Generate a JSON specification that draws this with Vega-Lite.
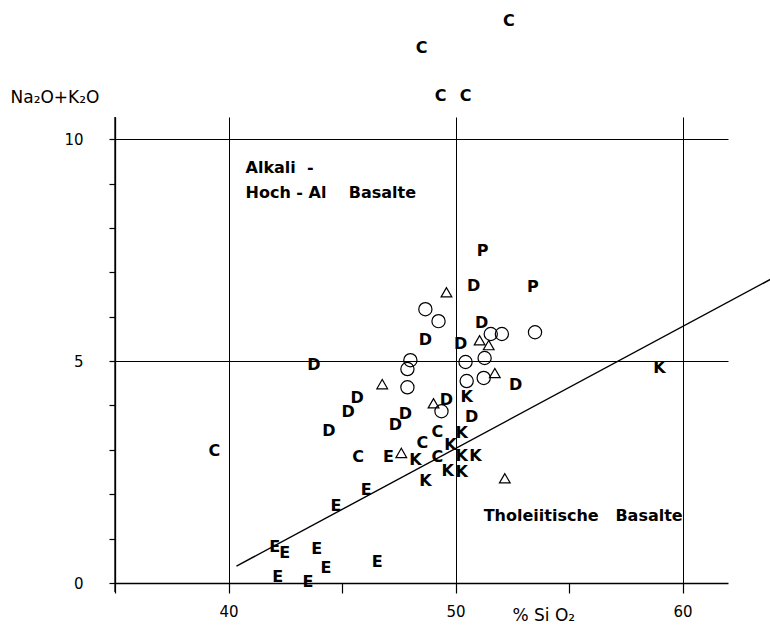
{
  "$schema": "https://vega.github.io/schema/vega-lite/v6.json",
  "width": 613,
  "height": 466,
  "autosize": "none",
  "padding": {"left": 115, "top": 117, "right": 42, "bottom": 44},
  "background": "white",
  "config": {
    "view": {"stroke": null},
    "font": "DejaVu Sans",
    "axis": {
      "domain": true,
      "domainColor": "black",
      "domainWidth": 1.3,
      "tickColor": "black",
      "tickWidth": 1.2,
      "gridColor": "black",
      "gridWidth": 1,
      "labelColor": "black",
      "titleColor": "black",
      "labelFont": "DejaVu Sans",
      "titleFont": "DejaVu Sans",
      "labelFontSize": 15,
      "titleFontSize": 17,
      "titleFontWeight": "normal"
    }
  },
  "datasets": {
    "points": [
      {"x": 48.5, "y": 12.05, "sym": "C"},
      {"x": 52.35, "y": 12.66, "sym": "C"},
      {"x": 49.34, "y": 10.97, "sym": "C"},
      {"x": 50.44, "y": 10.97, "sym": "C"},
      {"x": 39.38, "y": 2.97, "sym": "C"},
      {"x": 49.2, "y": 3.4, "sym": "C"},
      {"x": 48.54, "y": 3.15, "sym": "C"},
      {"x": 45.71, "y": 2.84, "sym": "C"},
      {"x": 49.2, "y": 2.84, "sym": "C"},
      {"x": 51.19, "y": 7.48, "sym": "P"},
      {"x": 53.41, "y": 6.67, "sym": "P"},
      {"x": 50.8, "y": 6.69, "sym": "D"},
      {"x": 51.15, "y": 5.86, "sym": "D"},
      {"x": 48.67, "y": 5.47, "sym": "D"},
      {"x": 50.22, "y": 5.38, "sym": "D"},
      {"x": 43.76, "y": 4.91, "sym": "D"},
      {"x": 52.65, "y": 4.46, "sym": "D"},
      {"x": 45.66, "y": 4.17, "sym": "D"},
      {"x": 45.27, "y": 3.85, "sym": "D"},
      {"x": 49.6, "y": 4.12, "sym": "D"},
      {"x": 47.79, "y": 3.81, "sym": "D"},
      {"x": 50.71, "y": 3.74, "sym": "D"},
      {"x": 44.42, "y": 3.42, "sym": "D"},
      {"x": 47.35, "y": 3.56, "sym": "D"},
      {"x": 50.49, "y": 4.19, "sym": "K"},
      {"x": 50.27, "y": 3.38, "sym": "K"},
      {"x": 49.78, "y": 3.11, "sym": "K"},
      {"x": 48.23, "y": 2.77, "sym": "K"},
      {"x": 50.27, "y": 2.86, "sym": "K"},
      {"x": 50.88, "y": 2.86, "sym": "K"},
      {"x": 49.65, "y": 2.52, "sym": "K"},
      {"x": 50.27, "y": 2.5, "sym": "K"},
      {"x": 48.67, "y": 2.3, "sym": "K"},
      {"x": 58.98, "y": 4.84, "sym": "K"},
      {"x": 47.04, "y": 2.84, "sym": "E"},
      {"x": 46.06, "y": 2.09, "sym": "E"},
      {"x": 44.73, "y": 1.73, "sym": "E"},
      {"x": 42.04, "y": 0.81, "sym": "E"},
      {"x": 42.48, "y": 0.68, "sym": "E"},
      {"x": 43.89, "y": 0.77, "sym": "E"},
      {"x": 44.29, "y": 0.34, "sym": "E"},
      {"x": 46.55, "y": 0.47, "sym": "E"},
      {"x": 42.17, "y": 0.14, "sym": "E"},
      {"x": 43.5, "y": 0.02, "sym": "E"},
      {"x": 48.67, "y": 6.17, "sym": "o"},
      {"x": 49.25, "y": 5.9, "sym": "o"},
      {"x": 51.55, "y": 5.61, "sym": "o"},
      {"x": 52.04, "y": 5.61, "sym": "o"},
      {"x": 53.5, "y": 5.65, "sym": "o"},
      {"x": 48.01, "y": 5.02, "sym": "o"},
      {"x": 47.88, "y": 4.82, "sym": "o"},
      {"x": 50.44, "y": 4.98, "sym": "o"},
      {"x": 51.28, "y": 5.07, "sym": "o"},
      {"x": 51.24, "y": 4.62, "sym": "o"},
      {"x": 50.49, "y": 4.55, "sym": "o"},
      {"x": 47.88, "y": 4.41, "sym": "o"},
      {"x": 49.38, "y": 3.87, "sym": "o"},
      {"x": 49.6, "y": 6.55, "sym": "tri"},
      {"x": 51.06, "y": 5.47, "sym": "tri"},
      {"x": 51.46, "y": 5.36, "sym": "tri"},
      {"x": 51.73, "y": 4.73, "sym": "tri"},
      {"x": 46.77, "y": 4.48, "sym": "tri"},
      {"x": 49.03, "y": 4.05, "sym": "tri"},
      {"x": 47.61, "y": 2.93, "sym": "tri"},
      {"x": 52.17, "y": 2.36, "sym": "tri"}
    ],
    "divider": [
      {"x": 40.35, "y": 0.38},
      {"x": 63.9, "y": 6.85}
    ],
    "leftaxis": [
      {"x": 35, "ylo": -0.2, "yhi": 10.5}
    ],
    "notes": [
      {"x": 40.75, "y": 9.35, "text": "Alkali\u00a0\u00a0-"},
      {"x": 40.75, "y": 8.78, "text": "Hoch\u00a0-\u00a0Al\u00a0\u00a0\u00a0\u00a0Basalte"},
      {"x": 51.24, "y": 1.51, "text": "Tholeiitische\u00a0\u00a0\u00a0Basalte"}
    ]
  },
  "layer": [
    {
      "data": {"name": "divider"},
      "mark": {"type": "line", "color": "black", "strokeWidth": 1.4, "clip": false},
      "encoding": {
        "x": {
          "field": "x", "type": "quantitative",
          "scale": {"domain": [35, 62], "nice": false, "zero": false},
          "axis": {
            "values": [35, 40, 45, 50, 55, 60],
            "labelExpr": "datum.value % 10 === 0 ? datum.label : ''",
            "tickSize": 10,
            "labelPadding": 11,
            "grid": true,
            "gridOpacity": {"condition": {"test": "datum.value % 5 === 0 && datum.value !== 45 && datum.value !== 55", "value": 1}, "value": 0},
            "title": "% Si O₂",
            "titleAlign": "left",
            "titleBaseline": "middle",
            "titleAnchor": "start",
            "titleX": 397,
            "titleY": 32
          }
        },
        "y": {
          "field": "y", "type": "quantitative",
          "scale": {"domain": [0, 10.5], "nice": false, "zero": false},
          "axis": {
            "values": [0, 1, 2, 3, 4, 5, 6, 7, 8, 9, 10],
            "labelExpr": "datum.value % 5 === 0 ? datum.label : ''",
            "tickSize": 6,
            "labelPadding": 26,
            "grid": true,
            "gridOpacity": {"condition": {"test": "datum.value === 5 || datum.value === 10", "value": 1}, "value": 0},
            "title": "Na₂O+K₂O",
            "titleAngle": 0,
            "titleAlign": "left",
            "titleBaseline": "middle",
            "titleAnchor": "start",
            "titleX": -105,
            "titleY": -20
          }
        }
      }
    },
    {
      "data": {"name": "leftaxis"},
      "mark": {"type": "rule", "color": "black", "strokeWidth": 1.3, "clip": false},
      "encoding": {
        "x": {"field": "x", "type": "quantitative"},
        "y": {"field": "ylo", "type": "quantitative"},
        "y2": {"field": "yhi"}
      }
    },
    {
      "data": {"name": "points"},
      "transform": [{"filter": "datum.sym !== 'o' && datum.sym !== 'tri'"}],
      "mark": {"type": "text", "font": "DejaVu Sans", "fontSize": 16, "fontWeight": "bold", "color": "black", "align": "center", "baseline": "middle", "clip": false},
      "encoding": {
        "x": {"field": "x", "type": "quantitative"},
        "y": {"field": "y", "type": "quantitative"},
        "text": {"field": "sym"}
      }
    },
    {
      "data": {"name": "points"},
      "transform": [{"filter": "datum.sym === 'o' || datum.sym === 'tri'"}],
      "mark": {"type": "point", "filled": false, "color": "black", "strokeWidth": 1.2, "opacity": 1, "clip": false},
      "encoding": {
        "x": {"field": "x", "type": "quantitative"},
        "y": {"field": "y", "type": "quantitative"},
        "shape": {"field": "sym", "type": "nominal", "scale": {"domain": ["o", "tri"], "range": ["circle", "triangle-up"]}, "legend": null},
        "size": {"field": "sym", "type": "nominal", "scale": {"domain": ["o", "tri"], "range": [175, 115]}, "legend": null}
      }
    },
    {
      "data": {"name": "notes"},
      "mark": {"type": "text", "font": "DejaVu Sans", "fontSize": 16, "fontWeight": "bold", "color": "black", "align": "left", "baseline": "middle", "clip": false},
      "encoding": {
        "x": {"field": "x", "type": "quantitative"},
        "y": {"field": "y", "type": "quantitative"},
        "text": {"field": "text"}
      }
    }
  ]
}
